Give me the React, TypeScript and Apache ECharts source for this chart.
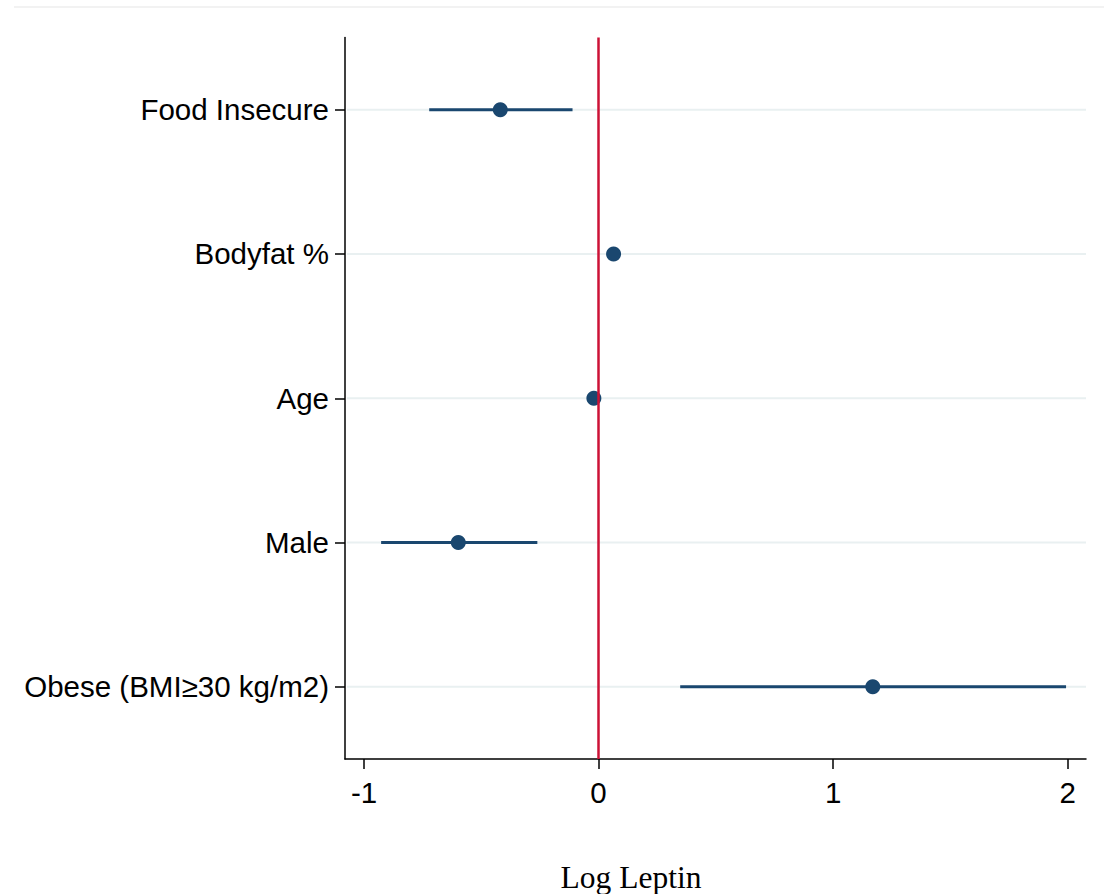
import React, { useEffect, useRef } from "react";
import * as echarts from "echarts";

const categories = ["Food Insecure", "Bodyfat %", "Age", "Male", "Obese (BMI≥30 kg/m2)"];
const estimates = [-0.419, 0.064, -0.02, -0.598, 1.169];
const ciLow = [-0.722, 0.058, -0.026, -0.927, 0.348];
const ciHigh = [-0.111, 0.07, -0.014, -0.261, 1.993];
const xTicks = [-1, 0, 1, 2];
const xTitle = "Log Leptin";

const NAVY = "#1a476f";
const RED = "#cc1236";
const GRID = "#e9f0f1";

export default function App() {
  const ref = useRef<HTMLDivElement>(null);
  useEffect(() => {
    document.body.style.margin = "0";
    const chart = echarts.init(ref.current!, null, { renderer: "svg" });
    const sans = "Liberation Sans, Arial, sans-serif";
    chart.setOption({
      animation: false,
      backgroundColor: "#ffffff",
      grid: { left: 345, top: 37.5, right: 18, bottom: 135, containLabel: false },
      xAxis: {
        type: "value",
        min: -1.081,
        max: 2.078,
        axisLine: { show: true, onZero: false, lineStyle: { color: "#000", width: 1.5 } },
        axisTick: { show: true, length: 10, lineStyle: { color: "#000", width: 1.5 }, customValues: xTicks },
        axisLabel: { customValues: xTicks, fontFamily: sans, fontSize: 29.5, color: "#000", margin: 18 },
        splitLine: { show: false },
      },
      yAxis: {
        type: "category",
        inverse: true,
        data: categories,
        axisLine: { show: true, onZero: false, lineStyle: { color: "#000", width: 1.5 } },
        axisTick: { show: true, alignWithLabel: true, length: 10, lineStyle: { color: "#000", width: 1.5 } },
        axisLabel: { fontFamily: sans, fontSize: 29.5, color: "#000", margin: 16 },
        splitLine: { show: false },
      },
      graphic: [
        {
          type: "line",
          shape: { x1: 14, y1: 7, x2: 1104, y2: 7 },
          style: { stroke: "#eeeeee", lineWidth: 1.5 },
        },
        {
          type: "text",
          x: 631,
          y: 877,
          style: {
            text: xTitle,
            fontFamily: "Liberation Serif, Times New Roman, serif",
            fontSize: 31.5,
            fill: "#000",
            align: "center",
            verticalAlign: "middle",
          },
        },
      ],
      series: [
        {
          type: "custom",
          z: 1,
          silent: true,
          data: categories.map((_, i) => i),
          renderItem: (params: any, api: any) => {
            const cs = params.coordSys;
            const y = api.coord([0, params.dataIndex])[1];
            return {
              type: "line",
              shape: { x1: cs.x + 2, y1: y, x2: cs.x + cs.width, y2: y },
              style: { stroke: GRID, lineWidth: 2 },
            };
          },
        },
        {
          type: "scatter",
          z: 2,
          data: [],
          markLine: {
            silent: true,
            symbol: "none",
            label: { show: false },
            lineStyle: { color: RED, width: 2.5, type: "solid" },
            data: [{ xAxis: 0 }],
          },
        },
        {
          type: "custom",
          z: 3,
          data: categories.map((_, i) => i),
          renderItem: (params: any, api: any) => {
            const i = params.dataIndex;
            const p1 = api.coord([ciLow[i], i]);
            const p2 = api.coord([ciHigh[i], i]);
            return {
              type: "line",
              shape: { x1: p1[0], y1: p1[1], x2: p2[0], y2: p2[1] },
              style: { stroke: NAVY, lineWidth: 3 },
            };
          },
        },
        {
          type: "scatter",
          z: 4,
          symbol: "circle",
          symbolSize: 15,
          itemStyle: { color: NAVY, opacity: 1 },
          data: estimates.map((v, i) => [v, i]),
        },
      ],
    });
    return () => chart.dispose();
  }, []);
  return <div ref={ref} style={{ width: 1104, height: 894 }} />;
}
